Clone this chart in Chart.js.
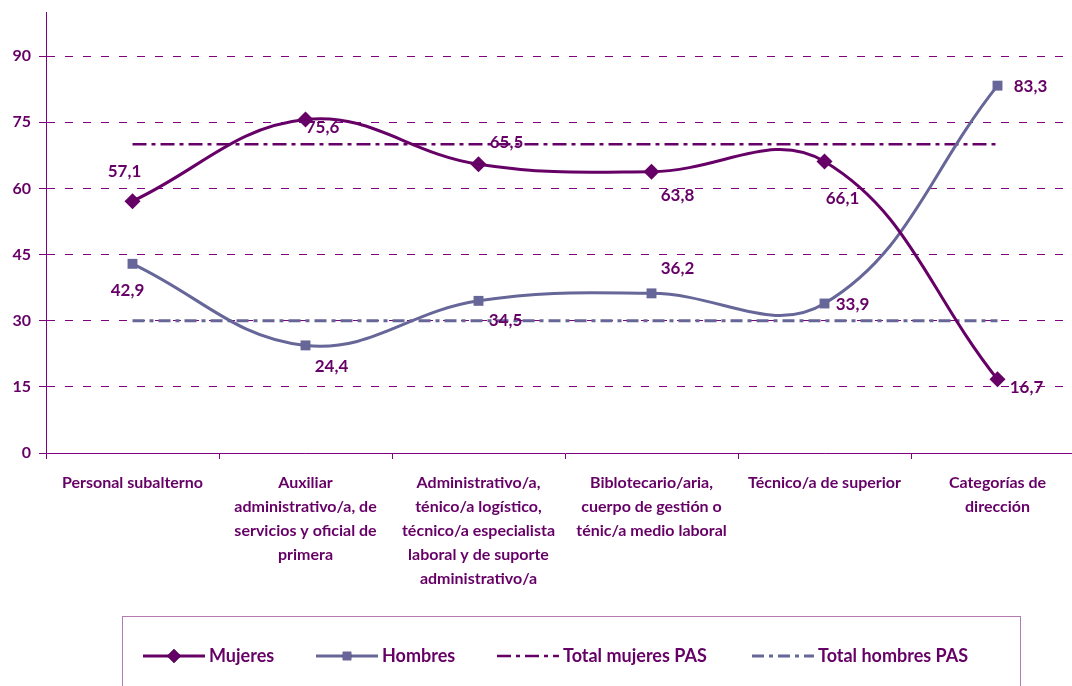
<!DOCTYPE html>
<html>
<head>
<meta charset="utf-8">
<script src="https://cdn.jsdelivr.net/npm/chart.js@4/dist/chart.umd.min.js"></script>
<style>
    html, body { margin: 0; padding: 0; background: #fff; overflow: hidden; }
    #contenedor { width: 1092px; height: 686px; }
</style>
</head>
<body>
<div id="contenedor"><canvas id="grafico" width="1092" height="686"></canvas></div>
<script>
'use strict';

const categorias = [
    'Personal subalterno',
    ['Auxiliar', 'administrativo/a, de', 'servicios y oficial de', 'primera'],
    ['Administrativo/a,', 'ténico/a logístico,', 'técnico/a especialista', 'laboral y de suporte', 'administrativo/a'],
    ['Biblotecario/aria,', 'cuerpo de gestión o', 'ténic/a medio laboral'],
    'Técnico/a de superior',
    ['Categorías de', 'dirección']
];
const mujeres = [57.1, 75.6, 65.5, 63.8, 66.1, 16.7];
const hombres = [42.9, 24.4, 34.5, 36.2, 33.9, 83.3];
const totalMujeresPAS = [70, 70, 70, 70, 70, 70];
const totalHombresPAS = [30, 30, 30, 30, 30, 30];
const ticksY = [0, 15, 30, 45, 60, 75, 90];

const MORADO = '#660066';
const AZUL = '#666699';
const REJILLA = '#800080';
const FUENTE = 'Lato, "Open Sans", sans-serif';

// desplazamientos de las etiquetas de valor (px) respecto a cada punto
const despMujeres = [[-8, -30], [17, 8], [28, -22], [26, 24], [18, 37], [29, 8]];
const despHombres = [[-5, 27], [26, 21], [27, 20], [26, -25], [28, 1], [33, 1]];

const etiquetasValor = {
    id: 'etiquetasValor',
    afterDatasetsDraw(chart) {
        const ctx = chart.ctx;
        ctx.save();
        ctx.font = 'bold 17px ' + FUENTE;
        ctx.fillStyle = MORADO;
        ctx.textAlign = 'center';
        ctx.textBaseline = 'middle';
        chart.data.datasets.forEach(function(ds, i) {
            if (!ds.desp) return;
            chart.getDatasetMeta(i).data.forEach(function(p, j) {
                const texto = ds.data[j].toFixed(1).replace('.', ',');
                ctx.fillText(texto, p.x + ds.desp[j][0], p.y + ds.desp[j][1]);
            });
        });
        ctx.restore();
    }
};

const leyenda = {
    id: 'leyenda',
    afterDraw(chart) {
        const ctx = chart.ctx;
        const posX = [143, 316, 497, 752];
        const y = 656;
        ctx.save();
        ctx.strokeStyle = '#b47ab4';
        ctx.lineWidth = 1;
        ctx.strokeRect(122.5, 616.5, 898, 100);
        ctx.font = 'bold 18px ' + FUENTE;
        ctx.textBaseline = 'middle';
        chart.data.datasets.forEach(function(ds, i) {
            const x = posX[i];
            ctx.strokeStyle = ds.borderColor;
            ctx.lineWidth = ds.borderWidth;
            ctx.setLineDash(ds.borderDash || []);
            ctx.beginPath();
            ctx.moveTo(x, y);
            ctx.lineTo(x + 62, y);
            ctx.stroke();
            ctx.setLineDash([]);
            if (ds.pointRadius > 0) {
                Chart.helpers.drawPoint(ctx, {
                    pointStyle: ds.pointStyle,
                    radius: ds.pointRadius - 1,
                    borderWidth: 0
                }, x + 31, y);
                ctx.fillStyle = ds.borderColor;
                ctx.fill();
            }
            ctx.fillStyle = MORADO;
            ctx.fillText(ds.label, x + 66, y);
        });
        ctx.restore();
    }
};

new Chart(document.getElementById('grafico'), {
    type: 'line',
    data: {
        labels: categorias,
        datasets: [{
            label: 'Mujeres',
            data: mujeres,
            borderColor: MORADO,
            backgroundColor: MORADO,
            borderWidth: 3,
            tension: 0.4,
            pointStyle: 'rectRot',
            pointRadius: 8,
            pointBorderWidth: 0,
            desp: despMujeres
        }, {
            label: 'Hombres',
            data: hombres,
            borderColor: AZUL,
            backgroundColor: AZUL,
            borderWidth: 3,
            tension: 0.4,
            pointStyle: 'rect',
            pointRadius: 7,
            pointBorderWidth: 0,
            desp: despHombres
        }, {
            label: 'Total mujeres PAS',
            data: totalMujeresPAS,
            borderColor: MORADO,
            borderWidth: 2.5,
            borderDash: [14, 5, 4, 5],
            pointRadius: 0,
            tension: 0
        }, {
            label: 'Total hombres PAS',
            data: totalHombresPAS,
            borderColor: AZUL,
            borderWidth: 3,
            borderDash: [12, 5, 4, 5],
            pointRadius: 0,
            tension: 0
        }]
    },
    options: {
        responsive: false,
        animation: false,
        layout: { padding: { top: 12, left: 0, right: 0, bottom: 0 } },
        plugins: {
            legend: { display: false },
            tooltip: { enabled: false }
        },
        scales: {
            x: {
                offset: true,
                border: { color: REJILLA, width: 1 },
                grid: {
                    offset: true,
                    drawOnChartArea: false,
                    drawTicks: true,
                    tickLength: 6,
                    color: REJILLA
                },
                ticks: {
                    autoSkip: false,
                    maxRotation: 0,
                    minRotation: 0,
                    padding: 12,
                    color: MORADO,
                    font: { family: FUENTE, size: 16, weight: 'bold', lineHeight: 1.5 }
                },
                afterFit(scale) {
                    scale.height = 233;
                    scale.paddingLeft = 0;
                    scale.paddingRight = 0;
                }
            },
            y: {
                min: 0,
                max: 100,
                border: { color: REJILLA, width: 1, dash: [8, 10] },
                grid: {
                    color: function(c) { return c.tick.value === 0 ? 'rgba(0,0,0,0)' : REJILLA; },
                    tickColor: REJILLA,
                    tickLength: 7,
                    lineWidth: 1,
                    tickBorderDash: []
                },
                ticks: {
                    stepSize: 15,
                    padding: 8,
                    color: MORADO,
                    font: { family: FUENTE, size: 16, weight: 'bold' }
                },
                afterBuildTicks(scale) {
                    scale.ticks = ticksY.map(function(v) { return { value: v }; });
                },
                afterFit(scale) {
                    scale.width = 46;
                    scale.paddingTop = 0;
                    scale.paddingBottom = 0;
                }
            }
        }
    },
    plugins: [etiquetasValor, leyenda]
});
</script>
</body>
</html>
